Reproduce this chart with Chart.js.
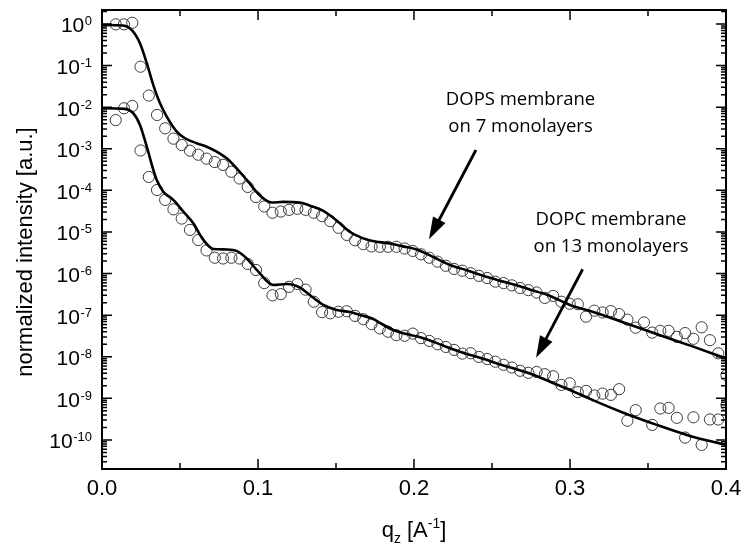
<!DOCTYPE html>
<html>
<head>
<meta charset="utf-8">
<script src="https://cdn.jsdelivr.net/npm/chart.js@4.4.0/dist/chart.umd.min.js"></script>
<style>
  body { margin: 0; background: #fff; }
  #wrap { width: 744px; height: 552px; }
</style>
</head>
<body>
<div id="wrap"><canvas id="c" width="744" height="552"></canvas></div>
<script>
// q_z of the measured points (same grid for both samples)
const qPoints = [0.0088, 0.0141, 0.0194, 0.0247, 0.0300, 0.0353, 0.0405, 0.0458, 0.0511, 0.0564,
  0.0617, 0.0670, 0.0723, 0.0776, 0.0829, 0.0882, 0.0934, 0.0987, 0.1040, 0.1093,
  0.1146, 0.1199, 0.1252, 0.1305, 0.1358, 0.1411, 0.1463, 0.1516, 0.1569, 0.1622,
  0.1675, 0.1728, 0.1781, 0.1834, 0.1887, 0.1940, 0.1992, 0.2045, 0.2098, 0.2151,
  0.2204, 0.2257, 0.2310, 0.2363, 0.2416, 0.2469, 0.2521, 0.2574, 0.2627, 0.2680,
  0.2733, 0.2786, 0.2839, 0.2892, 0.2945, 0.2998, 0.3050, 0.3103, 0.3156, 0.3209,
  0.3262, 0.3315, 0.3368, 0.3421, 0.3474, 0.3527, 0.3579, 0.3632, 0.3685, 0.3738,
  0.3791, 0.3844, 0.3897, 0.3950, 0.4003];

// DOPS membrane on 7 monolayers (measured)
const dopsData = [0.98, 0.98, 1.07, 0.094, 0.019, 6.5e-3, 3.1e-3, 1.75e-3, 1.23e-3, 9.0e-4,
  7.2e-4, 5.8e-4, 4.8e-4, 4.1e-4, 2.8e-4, 1.93e-4, 1.21e-4, 6.9e-5, 4.1e-5, 2.9e-5,
  3.1e-5, 3.4e-5, 3.6e-5, 3.4e-5, 2.9e-5, 2.4e-5, 1.82e-5, 1.26e-5, 8.5e-6, 6.3e-6,
  5.1e-6, 4.5e-6, 4.4e-6, 4.4e-6, 4.4e-6, 4.0e-6, 3.5e-6, 2.9e-6, 2.4e-6, 1.93e-6,
  1.54e-6, 1.29e-6, 1.17e-6, 1.02e-6, 8.8e-7, 7.8e-7, 6.4e-7, 5.9e-7, 5.2e-7, 4.5e-7,
  4.0e-7, 3.5e-7, 2.6e-7, 2.9e-7, 2.1e-7, 1.88e-7, 1.83e-7, 9.2e-8, 1.28e-7, 1.16e-7,
  1.25e-7, 1.06e-7, 7.8e-8, 5.0e-8, 6.7e-8, 3.8e-8, 4.2e-8, 4.2e-8, 3.0e-8, 3.7e-8,
  2.7e-8, 5.1e-8, 2.5e-8, 1.21e-8, 3.6e-9];

// DOPC membrane on 13 monolayers (measured)
const dopcData = [4.9e-3, 9.4e-3, 1.07e-2, 9.1e-4, 2.1e-4, 1.02e-4, 5.9e-5, 3.5e-5, 2.1e-5, 1.12e-5,
  6.4e-6, 3.6e-6, 2.4e-6, 2.3e-6, 2.4e-6, 2.3e-6, 1.7e-6, 1.22e-6, 5.9e-7, 3.0e-7,
  3.2e-7, 4.8e-7, 5.6e-7, 4.1e-7, 2.1e-7, 1.18e-7, 1.11e-7, 1.21e-7, 1.24e-7, 9.6e-8,
  8.0e-8, 6.1e-8, 4.8e-8, 4.0e-8, 3.3e-8, 3.2e-8, 3.6e-8, 2.8e-8, 2.4e-8, 2.0e-8,
  1.72e-8, 1.46e-8, 1.19e-8, 1.21e-8, 9.9e-9, 8.8e-9, 7.6e-9, 6.4e-9, 5.5e-9, 4.6e-9,
  4.1e-9, 4.3e-9, 3.8e-9, 3.4e-9, 2.1e-9, 2.3e-9, 1.41e-9, 1.51e-9, 1.17e-9, 1.30e-9,
  1.21e-9, 1.66e-9, 2.9e-10, 5.2e-10, null, 2.3e-10, 5.7e-10, 5.9e-10, 3.4e-10, 1.14e-10,
  3.5e-10, 7.6e-11, 3.1e-10, 3.1e-10, 6.9e-10];

// fit curves
const dopsFitQ = [0, 0.0135, 0.0190, 0.0244, 0.0287, 0.0329, 0.0372, 0.0415, 0.0479, 0.0532,
  0.0607, 0.0671, 0.0735, 0.0799, 0.0863, 0.0928, 0.1013, 0.1088, 0.1162, 0.1269,
  0.1333, 0.1419, 0.1504, 0.1590, 0.1675, 0.1761, 0.1846, 0.1931, 0.2017, 0.2124,
  0.2231, 0.2338, 0.2444, 0.2551, 0.2658, 0.2765, 0.2872, 0.3000, 0.3149, 0.3363,
  0.3577, 0.3790, 0.4000];
const dopsFit = [0.95, 0.92, 0.72, 0.34, 0.114, 0.034, 0.0124, 5.9e-3, 2.58e-3, 1.79e-3,
  1.36e-3, 1.12e-3, 8.5e-4, 5.9e-4, 3.4e-4, 1.78e-4, 7.5e-5, 5.1e-5, 5.3e-5, 5.1e-5,
  4.3e-5, 3.2e-5, 1.89e-5, 1.0e-5, 7.0e-6, 5.8e-6, 5.3e-6, 4.5e-6, 3.8e-6, 2.5e-6,
  1.61e-6, 1.20e-6, 8.8e-7, 6.7e-7, 5.2e-7, 3.9e-7, 2.9e-7, 1.76e-7, 1.19e-7, 6.3e-8,
  3.3e-8, 1.75e-8, 9.1e-9];

const dopcFitQ = [0, 0.0147, 0.0201, 0.0244, 0.0287, 0.0329, 0.0351, 0.0393, 0.0457, 0.0521,
  0.0585, 0.0649, 0.0713, 0.0799, 0.0863, 0.0928, 0.1002, 0.1098, 0.1186, 0.1269,
  0.1344, 0.1419, 0.1504, 0.1590, 0.1654, 0.1739, 0.1782, 0.1867, 0.1953, 0.2017,
  0.2124, 0.2231, 0.2338, 0.2444, 0.2551, 0.2658, 0.2765, 0.2872, 0.3000, 0.3128,
  0.3342, 0.3556, 0.3769, 0.4000];
const dopcFit = [9.4e-3, 9.1e-3, 7.1e-3, 3.7e-3, 1.12e-3, 3.1e-4, 1.78e-4, 9.3e-5, 5.9e-5, 3.1e-5,
  1.62e-5, 6.5e-6, 3.9e-6, 3.8e-6, 3.5e-6, 2.3e-6, 1.11e-6, 5.3e-7, 5.6e-7, 4.6e-7,
  2.8e-7, 1.76e-7, 1.33e-7, 1.19e-7, 1.01e-7, 8.1e-8, 6.5e-8, 4.4e-8, 3.5e-8, 3.1e-8,
  2.3e-8, 1.6e-8, 1.17e-8, 8.9e-9, 6.5e-9, 5.0e-9, 3.7e-9, 2.5e-9, 1.59e-9, 9.7e-10,
  4.5e-10, 2.3e-10, 1.25e-10, 7.6e-11];

// axes
const xMajorTicks = [0, 0.1, 0.2, 0.3, 0.4];
const xMinorTicks = [0.05, 0.15, 0.25, 0.35];
const yDecades = [0, -1, -2, -3, -4, -5, -6, -7, -8, -9, -10];

// annotations: text lines + arrow (start, tip) in data units
const notes = [
  { lines: ['DOPS membrane', 'on 7 monolayers'], q: 0.2683, y: [1.13e-2, 2.6e-3],
    from: [0.2397, 9.35e-4], to: [0.2096, 6.7e-6] },
  { lines: ['DOPC membrane', 'on 13 monolayers'], q: 0.3263, y: [1.47e-5, 3.36e-6],
    from: [0.3081, 1.27e-6], to: [0.2782, 9.4e-9] }
];

const SANS = '"Liberation Sans", Arial, sans-serif';

function pairs(xs, ys) {
  return xs.map((q, i) => ({ x: q, y: ys[i] }));
}

// 画框、刻度、标签和注释
const decorate = {
  id: 'decorate',
  afterDraw(chart) {
    const ctx = chart.ctx;
    const sx = chart.scales.x, sy = chart.scales.y;
    const a = chart.chartArea;
    ctx.save();
    ctx.strokeStyle = '#000';
    ctx.fillStyle = '#000';

    // frame
    ctx.lineWidth = 2;
    ctx.strokeRect(a.left, a.top, a.right - a.left, a.bottom - a.top);

    // x ticks, bottom and top, pointing inwards
    ctx.lineWidth = 1.5;
    ctx.beginPath();
    const xt = (v, len) => {
      const px = sx.getPixelForValue(v);
      ctx.moveTo(px, a.bottom); ctx.lineTo(px, a.bottom - len);
      ctx.moveTo(px, a.top); ctx.lineTo(px, a.top + len);
    };
    xMajorTicks.forEach(v => xt(v, 10));
    xMinorTicks.forEach(v => xt(v, 6));

    // y ticks, left and right
    const yt = (v, len) => {
      const py = sy.getPixelForValue(v);
      if (py < a.top - 0.5 || py > a.bottom + 0.5) return;
      ctx.moveTo(a.left, py); ctx.lineTo(a.left + len, py);
      ctx.moveTo(a.right, py); ctx.lineTo(a.right - len, py);
    };
    for (let n = -11; n <= 0; n++) {
      for (let k = 2; k <= 9; k++) yt(k * Math.pow(10, n), 5);
    }
    yDecades.forEach(n => yt(Math.pow(10, n), 10));
    ctx.stroke();

    // y tick labels 10^n
    ctx.textAlign = 'right';
    ctx.textBaseline = 'alphabetic';
    yDecades.forEach(n => {
      const py = sy.getPixelForValue(Math.pow(10, n));
      const exp = String(n);
      ctx.font = '13px ' + SANS;
      const ew = ctx.measureText(exp).width;
      ctx.fillText(exp, a.left - 10, py + 1.5);
      ctx.font = '21px ' + SANS;
      ctx.fillText('10', a.left - 10 - ew - 0.5, py + 8.5);
    });

    // x title: q_z [A^-1]
    const parts = [
      { t: 'q', size: 22, dy: 0 },
      { t: 'z', size: 14, dy: 6 },
      { t: ' [A', size: 22, dy: 0 },
      { t: '-1', size: 14, dy: -9 },
      { t: ']', size: 22, dy: 0 }
    ];
    let total = 0;
    parts.forEach(p => { ctx.font = p.size + 'px ' + SANS; p.w = ctx.measureText(p.t).width; total += p.w; });
    let cx = (a.left + a.right) / 2 - total / 2;
    ctx.textAlign = 'left';
    parts.forEach(p => {
      ctx.font = p.size + 'px ' + SANS;
      ctx.fillText(p.t, cx, 537 + p.dy);
      cx += p.w;
    });

    // y title
    ctx.save();
    ctx.translate(31.5, 252);
    ctx.rotate(-Math.PI / 2);
    ctx.textAlign = 'center';
    ctx.font = '22px ' + SANS;
    ctx.fillText('normalized intensity [a.u.]', 0, 0);
    ctx.restore();

    // annotations
    ctx.font = '18.5px "Open Sans", "Noto Sans", sans-serif';
    ctx.textAlign = 'center';
    notes.forEach(nt => {
      const px = sx.getPixelForValue(nt.q);
      nt.lines.forEach((s, i) => ctx.fillText(s, px, sy.getPixelForValue(nt.y[i])));

      const x0 = sx.getPixelForValue(nt.from[0]), y0 = sy.getPixelForValue(nt.from[1]);
      const x1 = sx.getPixelForValue(nt.to[0]), y1 = sy.getPixelForValue(nt.to[1]);
      const ang = Math.atan2(y1 - y0, x1 - x0);
      const head = 22, half = 7;
      const bx = x1 - head * Math.cos(ang), by = y1 - head * Math.sin(ang);
      ctx.lineWidth = 2.8;
      ctx.beginPath();
      ctx.moveTo(x0, y0);
      ctx.lineTo(bx + 2 * Math.cos(ang), by + 2 * Math.sin(ang));
      ctx.stroke();
      ctx.beginPath();
      ctx.moveTo(x1, y1);
      ctx.lineTo(bx + half * Math.sin(ang), by - half * Math.cos(ang));
      ctx.lineTo(bx - half * Math.sin(ang), by + half * Math.cos(ang));
      ctx.closePath();
      ctx.fill();
    });
    ctx.restore();
  }
};

const pointStyle = {
  showLine: false,
  pointRadius: 5.6,
  pointBorderWidth: 1,
  borderColor: '#3c3c3c',
  backgroundColor: 'rgba(0,0,0,0)',
  order: 2
};
const lineStyle = {
  showLine: true,
  pointRadius: 0,
  borderColor: '#000',
  borderWidth: 2.6,
  cubicInterpolationMode: 'monotone',
  fill: false,
  order: 1
};

new Chart(document.getElementById('c'), {
  type: 'scatter',
  data: {
    datasets: [
      Object.assign({ label: 'DOPS fit', data: pairs(dopsFitQ, dopsFit) }, lineStyle),
      Object.assign({ label: 'DOPC fit', data: pairs(dopcFitQ, dopcFit) }, lineStyle),
      Object.assign({ label: 'DOPS membrane on 7 monolayers', data: pairs(qPoints, dopsData) }, pointStyle),
      Object.assign({ label: 'DOPC membrane on 13 monolayers', data: pairs(qPoints, dopcData) }, pointStyle)
    ]
  },
  options: {
    responsive: false,
    animation: false,
    devicePixelRatio: 1,
    layout: { padding: { top: 10, right: 18, left: 0, bottom: 0 } },
    plugins: {
      legend: { display: false },
      tooltip: { enabled: false }
    },
    scales: {
      x: {
        type: 'linear',
        min: 0,
        max: 0.4,
        grid: { display: false, drawTicks: false },
        border: { display: false },
        ticks: {
          stepSize: 0.1,
          padding: 7,
          color: '#000',
          font: { family: SANS, size: 22 },
          callback: v => v.toFixed(1)
        },
        afterFit: s => { s.height = 83; s.paddingLeft = 0; s.paddingRight = 0; }
      },
      y: {
        type: 'logarithmic',
        min: 2.0e-11,
        max: 2.17,
        grid: { display: false, drawTicks: false },
        border: { display: false },
        ticks: { display: false },
        afterFit: s => { s.width = 102; s.paddingTop = 0; s.paddingBottom = 0; }
      }
    }
  },
  plugins: [decorate]
});
</script>
</body>
</html>
